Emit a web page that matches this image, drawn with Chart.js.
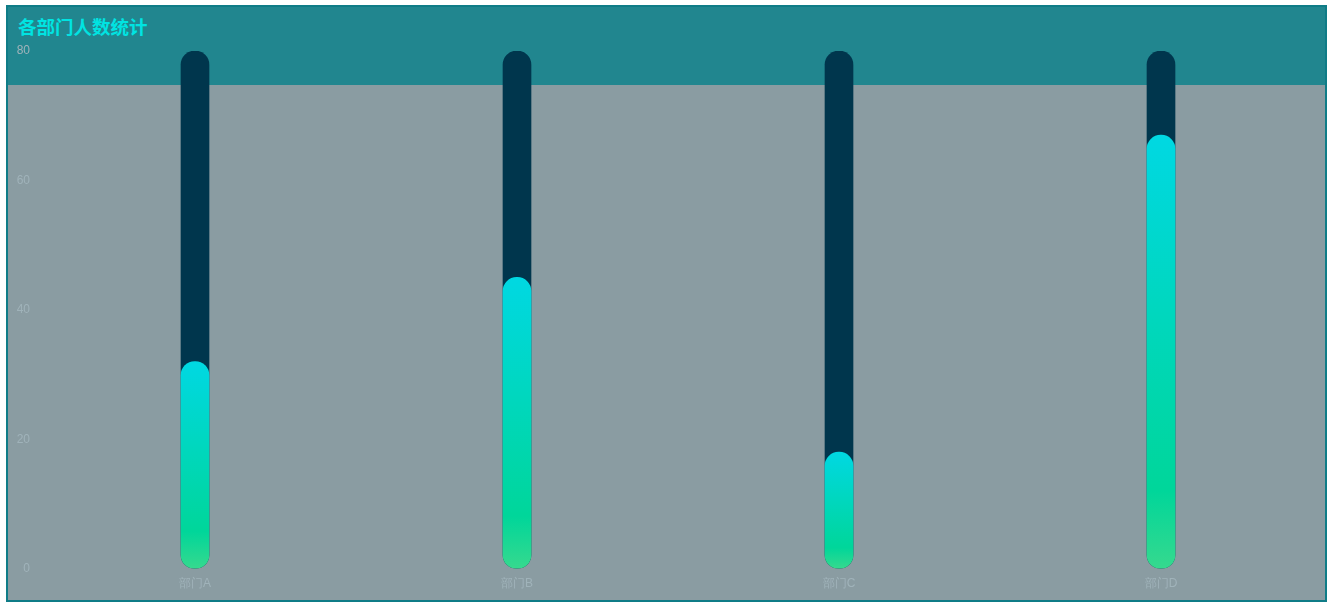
<!DOCTYPE html>
<html>
<head>
    <meta charset="utf-8">
    <title>各部门人数统计</title>
    <script src="https://cdn.jsdelivr.net/npm/chart.js"></script>
    <style>
      body { margin: 0; background: #fff; }
      #box {
        position: absolute; left: 6px; top: 5px;
        width: 1321px; height: 597px;
        box-sizing: border-box;
        border: 2px solid #0f7c87;
        background: linear-gradient(to bottom, #21868f 0px, #21868f 78px, #8a9ca2 78px, #8a9ca2 100%);
      }
      #title {
        position: absolute; left: 10px; top: 6px;
        font: bold 18.5px "Noto Sans CJK SC", sans-serif;
        color: #00e4e2;
      }
      #wrap { position: absolute; left: 0; top: 0; width: 1317px; height: 593px; }
    </style>
</head>
<body>
  <div id="box">
    <div id="title">各部门人数统计</div>
    <div id="wrap"><canvas id="myChart"></canvas></div>
  </div>

  <script type="text/javascript">
    // departments and head counts
    var departments = ['部门A', '部门B', '部门C', '部门D'];
    var headCount = [32, 45, 18, 67];
    var capacity = [80, 80, 80, 80];
    var yTicks = [0, 20, 40, 60, 80];

    const ctx = document.getElementById('myChart').getContext('2d');

    // gradient per bar, from its top down to zero
    function barGradient(context) {
      const chart = context.chart;
      const y = chart.scales.y;
      if (!y || !chart.chartArea) return '#00d6a0';
      const v = context.raw || 0;
      const top = y.getPixelForValue(v);
      const bottom = y.getPixelForValue(0);
      if (bottom - top < 1) return '#00d6a0';
      const g = chart.ctx.createLinearGradient(0, top, 0, bottom);
      g.addColorStop(0, '#00d8e2');
      g.addColorStop(0.82, '#00d69a');
      g.addColorStop(1, '#36d98e');
      return g;
    }

    new Chart(ctx, {
      type: 'bar',
      data: {
        labels: departments,
        datasets: [{
          label: '人数',
          data: headCount,
          backgroundColor: barGradient,
          borderRadius: 14,
          borderSkipped: false,
          barThickness: 28,
          grouped: false,
          order: 0
        }, {
          label: '总数',
          data: capacity,
          backgroundColor: '#00364d',
          borderRadius: 14,
          borderSkipped: false,
          barThickness: 28,
          grouped: false,
          order: 1
        }]
      },
      options: {
        responsive: true,
        maintainAspectRatio: false,
        animation: false,
        layout: { padding: { top: 44, right: 3, bottom: 1, left: 0 } },
        plugins: {
          legend: { display: false },
          tooltip: { enabled: false }
        },
        scales: {
          x: {
            grid: { display: false, drawTicks: false },
            border: { display: false },
            ticks: { color: '#a0b3ba', font: { size: 12 }, padding: 8 }
          },
          y: {
            min: 0,
            max: 80,
            afterFit: function(s) { s.width = 26; },
            afterBuildTicks: function(s) { s.ticks = yTicks.map(function(v) { return { value: v }; }); },
            grid: { display: false, drawTicks: false },
            border: { display: false },
            ticks: { color: '#a0b3ba', font: { size: 12 }, padding: 4 }
          }
        }
      }
    });
  </script>
</body>
</html>
